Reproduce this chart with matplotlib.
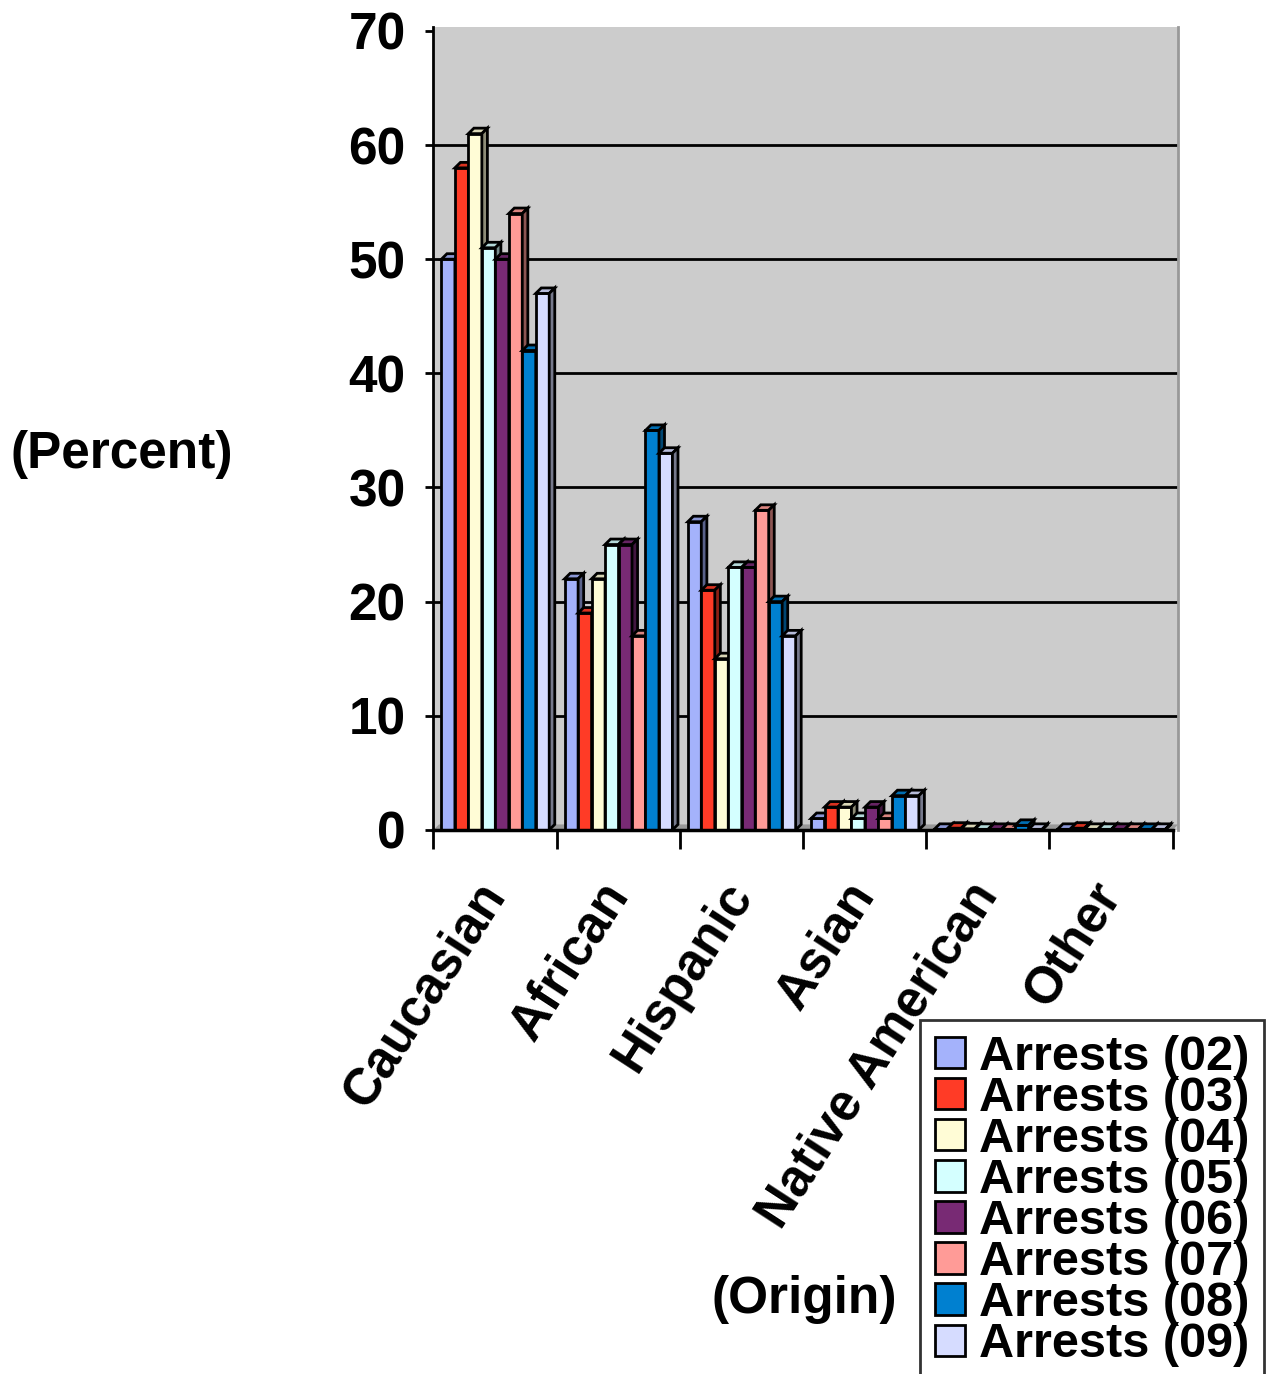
import numpy as np
import matplotlib.pyplot as plt
from matplotlib.patches import Polygon, Rectangle
from matplotlib.colors import to_rgb

plt.rcParams['font.family'] = ['Liberation Sans', 'DejaVu Sans']
plt.rcParams['font.weight'] = 'bold'

# data
origins = ['Caucasian', 'African', 'Hispanic', 'Asian', 'Native American', 'Other']
years = ['02', '03', '04', '05', '06', '07', '08', '09']
arrests = [
    [50, 22, 27, 1, 0.05, 0.05],   # 02
    [58, 19, 21, 2, 0.15, 0.15],   # 03
    [61, 22, 15, 2, 0.1, 0.05],    # 04
    [51, 25, 23, 1, 0.05, 0.05],   # 05
    [50, 25, 23, 2, 0.05, 0.05],   # 06
    [54, 17, 28, 1, 0.05, 0.05],   # 07
    [42, 35, 20, 3, 0.4, 0.05],    # 08
    [47, 33, 17, 3, 0.05, 0.05],   # 09
]
colors = ['#a4b2fb', '#ff3b26', '#fffcd6', '#d4ffff', '#782a74', '#ff9b97', '#0080d0', '#d6dcff']

FS = 37

def shade(c, f):
    r, g, b = to_rgb(c)
    return (r * f, g * f, b * f)

fig = plt.figure(figsize=(12.71, 13.74), dpi=100)
ax = fig.add_axes([0.341, 0.396, 0.586, 0.584])
ax.set_facecolor('#cccccc')

n_cat = len(origins)
n_ser = len(years)
group_start = 0.065
bw = 0.875 / n_ser
dx, dy = 0.045, 0.48   # depth offset of the pseudo-3D boxes

ax.set_xlim(0, n_cat + dx)
ax.set_ylim(0, 70.3)

# gridlines on the back wall
for v in range(10, 70, 10):
    ax.plot([0, n_cat + dx], [v, v], color='black', lw=2, zorder=1)

# floor
ax.add_patch(Polygon([(0, 0), (n_cat, 0), (n_cat + dx, dy), (dx, dy)],
                     closed=True, facecolor='#999999', edgecolor='none', zorder=1))

for ci in range(n_cat):
    for si in range(n_ser):
        h = arrests[si][ci]
        x0 = ci + group_start + si * bw
        c = colors[si]
        z = 2 + ci * 0.1 + si * 0.01
        ax.add_patch(Rectangle((x0, 0), bw, h, facecolor=c, edgecolor='black',
                               lw=2, zorder=z))
        ax.add_patch(Polygon([(x0, h), (x0 + bw, h), (x0 + bw + dx, h + dy), (x0 + dx, h + dy)],
                             closed=True, facecolor=shade(c, 0.85), edgecolor='black',
                             lw=2, zorder=z))
        ax.add_patch(Polygon([(x0 + bw, 0), (x0 + bw + dx, dy), (x0 + bw + dx, h + dy), (x0 + bw, h)],
                             closed=True, facecolor=shade(c, 0.55), edgecolor='black',
                             lw=2, zorder=z))

# axes styling
ax.spines['top'].set_visible(False)
ax.spines['right'].set_color('#999999')
ax.spines['right'].set_linewidth(2)
ax.spines['left'].set_linewidth(2)
ax.spines['bottom'].set_linewidth(2.5)
ax.spines['bottom'].set_bounds(0, n_cat)

ax.set_yticks(range(0, 71, 10))
ax.set_yticklabels([str(v) for v in range(0, 71, 10)], fontsize=FS, fontweight='bold')
ax.tick_params(axis='y', direction='out', length=6, width=2, pad=14)
ax.set_xticks(range(0, n_cat + 1))
ax.set_xticklabels([])
ax.tick_params(axis='x', direction='out', length=14, width=2)

for ci, name in enumerate(origins):
    ax.text(ci + 0.5, -5.0, name, rotation=57, rotation_mode='anchor',
            ha='right', va='center', fontsize=FS, fontweight='bold')

fig.text(0.008, 0.669, '(Percent)', fontsize=FS, fontweight='bold', va='center', ha='left')
fig.text(0.633, 0.054, '(Origin)', fontsize=FS, fontweight='bold', va='center', ha='center')

handles = [Rectangle((0, 0), 1, 1, facecolor=c, edgecolor='black', lw=2) for c in colors]
leg = fig.legend(handles, [f'Arrests ({y})' for y in years],
                 loc='upper left', bbox_to_anchor=(920 / 1271, 1 - 1020 / 1374),
                 prop={'size': 35, 'weight': 'bold'}, frameon=True, fancybox=False,
                 edgecolor='black', handlelength=0.62, handleheight=0.62,
                 handletextpad=0.3, labelspacing=-0.08, borderpad=0.3, borderaxespad=0)
leg.get_frame().set_linewidth(2)

fig.savefig('out.png', dpi=100, facecolor='white')
